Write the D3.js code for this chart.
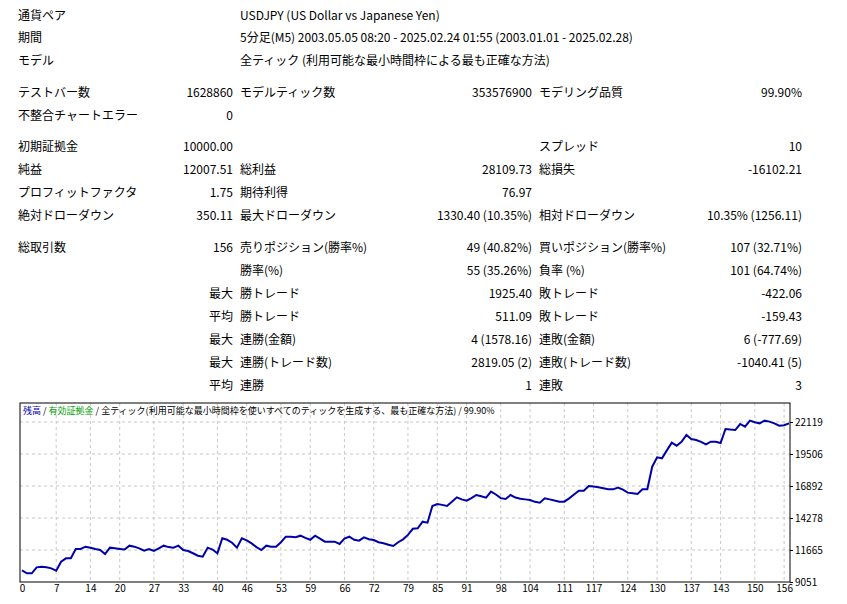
<!DOCTYPE html>
<html><head><meta charset="utf-8">
<script src="https://cdn.jsdelivr.net/npm/d3@7/dist/d3.min.js"></script>
<style>body{margin:0;background:#fff}text{font-family:"Noto Sans CJK JP","Liberation Sans",sans-serif}</style>
</head><body><svg id="c" width="847" height="604"></svg>
<script>
const balance = [10000,9760,9760,10250,10303,10250,10167,9974,10712,10984,10984,11746,11746,11936,11850,11750,11665,11338,11855,11800,
11750,11700,12018,11936,11800,11610,11746,11583,11800,12018,11900,11855,12018,11665,11583,11400,11200,11120,11855,11700,
11400,12620,12500,12260,11855,12620,12450,12200,11900,11665,12018,11936,11936,12300,12750,12750,12700,12833,12650,12500,
12833,12600,12343,12343,12343,12155,12600,12750,12500,12425,12700,12550,12480,12300,12210,12100,11991,12300,12534,12900,
13400,13433,13976,13894,15258,15422,15350,15258,15600,15967,15800,15691,15900,16157,16050,15937,16430,16200,15900,15830,
16157,15950,15858,15800,15748,15600,15531,15885,15800,15700,15612,15612,15885,16200,16512,16512,16892,16850,16783,16700,
16620,16620,16756,16600,16348,16300,16238,16620,16620,18470,19233,19152,19800,20430,20185,20500,21057,20730,20649,20500,
20297,20512,20512,20400,21547,21500,21465,21956,21738,22228,22100,22010,22228,22150,22010,21820,21850,22010];
const yTicks = [9051,11665,14278,16892,19506,22119];
const xTicks = [0,7,14,20,27,33,40,46,53,59,66,72,79,85,91,98,104,111,117,124,130,137,143,150,156];
const header = [["通貨ペア","USDJPY (US Dollar vs Japanese Yen)",16],["期間","5分足(M5) 2003.05.05 08:20 - 2025.02.24 01:55 (2003.01.01 - 2025.02.28)",38],["モデル","全ティック (利用可能な最小時間枠による最も正確な方法)",61]];
const rows = [
[93,"テストバー数","1628860","モデルティック数","353576900","モデリング品質","99.90%"],
[116,"不整合チャートエラー","0","","","",""],
[147,"初期証拠金","10000.00","","","スプレッド","10"],
[170,"純益","12007.51","総利益","28109.73","総損失","-16102.21"],
[193,"プロフィットファクタ","1.75","期待利得","76.97","",""],
[216,"絶対ドローダウン","350.11","最大ドローダウン","1330.40 (10.35%)","相対ドローダウン","10.35% (1256.11)"],
[248,"総取引数","156","売りポジション(勝率%)","49 (40.82%)","買いポジション(勝率%)","107 (32.71%)"],
[271,"","","勝率(%)","55 (35.26%)","負率 (%)","101 (64.74%)"],
[294,"","最大","勝トレード","1925.40","敗トレード","-422.06"],
[317,"","平均","勝トレード","511.09","敗トレード","-159.43"],
[340,"","最大","連勝(金額)","4 (1578.16)","連敗(金額)","6 (-777.69)"],
[363,"","最大","連勝(トレード数)","2819.05 (2)","連敗(トレード数)","-1040.41 (5)"],
[386,"","平均","連勝","1","連敗","3"]];
const svg = d3.select("#c");
const fs = 12;
function t(x,y,s,anchor,col,size){svg.append("text").attr("x",x).attr("y",y).attr("dy","0.35em").attr("text-anchor",anchor||"start").attr("fill",col||"#000").attr("font-size",size||fs).text(s);}
header.forEach(h=>{t(18,h[2],h[0]);t(240,h[2],h[1]);});
rows.forEach(r=>{const y=r[0];
 if(r[1])t(18,y,r[1]); if(r[2])t(233,y,r[2],"end");
 if(r[3])t(240,y,r[3]); if(r[4])t(532,y,r[4],"end");
 if(r[5])t(539,y,r[5]); if(r[6])t(802,y,r[6],"end");});
const L=20,R=790,T=403,B=582;
const x=d3.scaleLinear().domain([0,157]).range([L+2,R-1]);
const y=d3.scaleLinear().domain([9051,22119]).range([B,422]);
const g=svg.append("g");
g.selectAll(".gx").data(xTicks.slice(1)).join("line").attr("x1",d=>x(d)).attr("x2",d=>x(d)).attr("y1",T).attr("y2",B).attr("stroke","#c8c8c8").attr("stroke-dasharray","3,3");
g.selectAll(".gy").data(yTicks.slice(1)).join("line").attr("x1",L).attr("x2",R).attr("y1",d=>y(d)).attr("y2",d=>y(d)).attr("stroke","#c8c8c8").attr("stroke-dasharray","3,3");
svg.append("rect").attr("x",L).attr("y",T).attr("width",R-L).attr("height",B-T).attr("fill","none").attr("stroke","#000");
const xa=svg.append("g").attr("transform",`translate(0,${B})`).call(d3.axisBottom(x).tickValues(xTicks).tickFormat(d3.format("d")).tickSize(0).tickPadding(3));
xa.select(".domain").remove(); xa.selectAll("text").attr("font-size",10).attr("font-family","'Liberation Sans',sans-serif");
const ya=svg.append("g").attr("transform",`translate(${R},0)`).call(d3.axisRight(y).tickValues(yTicks).tickFormat(d3.format("d")).tickSize(3).tickPadding(2));
ya.select(".domain").remove(); ya.selectAll("text").attr("font-size",10).attr("font-family","'Liberation Sans',sans-serif");
svg.append("path").datum(balance).attr("fill","none").attr("stroke","#0000aa").attr("stroke-width",2)
 .attr("d",d3.line().x((d,i)=>x(i)).y(d=>y(d)));
const lg=svg.append("text").attr("x",23).attr("y",411).attr("dy","0.35em").attr("font-size",9);
lg.append("tspan").attr("fill","#0000aa").text("残高");
lg.append("tspan").attr("fill","#000").text(" / ");
lg.append("tspan").attr("fill","#00a000").text("有効証拠金");
lg.append("tspan").attr("fill","#000").text(" / 全ティック(利用可能な最小時間枠を使いすべてのティックを生成する、最も正確な方法) / 99.90%");
</script></body></html>
